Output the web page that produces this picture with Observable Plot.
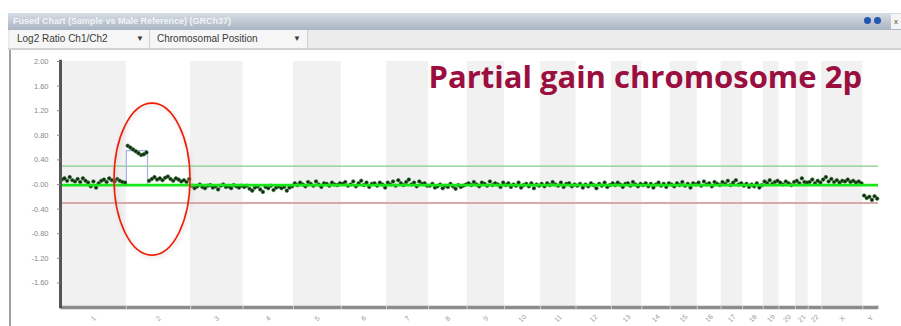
<!DOCTYPE html>
<html>
<head>
<meta charset="utf-8">
<script src="https://cdn.jsdelivr.net/npm/d3@7"></script>
<script src="https://cdn.jsdelivr.net/npm/@observablehq/plot@0.6"></script>
<style>
  html, body { margin: 0; padding: 0; background: #fff; }
  #page { position: relative; width: 901px; height: 326px; overflow: hidden; background: #fff; font-family: "Liberation Sans", Arial, sans-serif; }
  #titlebar { position: absolute; left: 8px; top: 13px; width: 893px; height: 17px; background: linear-gradient(#d6dde5, #a9b5c2); color: rgba(255,255,255,0.8); font-size: 9px; font-weight: bold; line-height: 17px; padding-left: 5px; box-sizing: border-box; }
  #toolbar { position: absolute; left: 8px; top: 30px; width: 893px; height: 18px; background: #ececec; border-bottom: 2px solid #d2d2d2; font-size: 10px; color: #3a3a3a; }
  .btn { position: absolute; top: 0; height: 18px; line-height: 18px; background: #f6f6f6; border-right: 1px solid #d0d0d0; box-sizing: border-box; padding-left: 7px; }
  .btn span { position: absolute; font-size: 8px; }
  #leftborder { position: absolute; left: 9px; top: 50px; width: 2px; height: 276px; background: #a0a0a0; }
  #chart { position: absolute; left: 0; top: 50px; }
  .bdot { position: absolute; top: 17px; width: 7px; height: 7px; border-radius: 50%; background: #2458b0; }
  #closebox { position: absolute; left: 891px; top: 14px; width: 10px; height: 15px; background: #f4f4f4; font-size: 8px; line-height: 15px; color: #444; text-align: center; }
</style>
</head>
<body>
<div id="page">
  <div id="titlebar">Fused Chart (Sample vs Male Reference) (GRCh37)</div>
  <div class="bdot" style="left:864px"></div>
  <div class="bdot" style="left:874px"></div>
  <div id="closebox">x</div>
  <div id="toolbar">
    <div class="btn" style="left:2px;width:140px">Log2 Ratio Ch1/Ch2<span style="left:126px">&#9660;</span></div>
    <div class="btn" style="left:142px;width:158px">Chromosomal Position<span style="left:143px">&#9660;</span></div>
  </div>
  <div id="leftborder"></div>
  <div id="chart"></div>
</div>
<script>
// Chromosome names and lengths (Mb, GRCh37)
const chromNames = ["1","2","3","4","5","6","7","8","9","10","11","12","13","14","15","16","17","18","19","20","21","22","X","Y"];
const chromLengths = [249.25,243.2,198.0,191.2,180.9,171.1,159.1,146.4,141.2,135.5,135.0,133.9,115.2,107.3,102.5,90.4,81.2,78.1,59.1,63.0,48.1,51.3,155.3,59.4];

// Log2 ratio values read along each chromosome
const chr1 = [0.08,0.1,0.06,0.12,0.07,0.05,0.09,0.04,0.1,0.06,0.03,-0.03,0.05,-0.05,0.02,0.06,0.08,0.04,0.1,0.07,0.05,0.09,0.06,0.04,0.03];
const chr2 = [0.63,0.6,0.57,0.54,0.51,0.48,0.49,0.52,0.06,0.09,0.12,0.08,0.1,0.07,0.11,0.13,0.09,0.06,0.1,0.08,0.05,0.07,0.04,0.09];
const chr3 = [-0.02,-0.06,-0.03,0.0,-0.04,-0.06,-0.02,-0.01,-0.05,-0.03,-0.08,-0.02,0.0,-0.04,-0.03,-0.06,-0.01,-0.03,-0.05,-0.02];
const chr4 = [-0.04,-0.02,-0.07,-0.1,-0.05,-0.03,-0.08,-0.12,-0.04,-0.06,-0.02,-0.09,-0.05,-0.03,-0.06,-0.04,-0.1,-0.05,-0.03];
const chr5 = [0.02,-0.01,0.03,0.0,-0.03,0.04,0.01,-0.02,0.05,0.0,-0.04,0.02,0.01,-0.02,0.03,0.0,-0.01,0.02];
const chr6 = [0.01,0.04,-0.02,0.0,0.05,-0.03,0.02,0.06,-0.01,0.03,-0.04,0.01,0.02,-0.02,0.03,0.0,-0.05];
const chr7 = [0.03,0.0,0.05,-0.02,0.07,0.02,-0.01,0.04,0.08,0.0,0.03,-0.03,0.05,0.01,0.02,-0.02];
const chr8 = [-0.02,0.01,-0.05,-0.03,0.0,-0.06,-0.02,-0.04,0.01,-0.03,-0.07,-0.01,-0.04,-0.02,0.0];
const chr9 = [0.02,-0.01,0.04,0.0,-0.03,0.03,0.01,-0.02,0.05,-0.01,0.02,0.0,-0.04,0.03];
const chr10 = [-0.01,0.02,-0.04,0.0,-0.02,0.03,-0.05,-0.01,0.01,-0.03,0.02,-0.06,0.0,-0.02];
const chr11 = [0.01,-0.03,0.02,-0.01,0.04,0.0,-0.02,0.03,-0.04,0.01,0.02,-0.03,0.0];
const chr12 = [-0.02,0.01,-0.05,0.0,-0.03,0.02,-0.01,-0.06,0.01,-0.02,0.03,-0.04,-0.01];
const chr13 = [0.02,-0.01,0.03,0.0,-0.04,0.01,0.02,-0.02,0.04,0.0,-0.03,0.01];
const chr14 = [-0.01,0.02,-0.03,0.01,-0.05,0.0,0.03,-0.02,0.01,-0.04,0.02];
const chr15 = [0.0,-0.03,0.02,-0.01,0.04,-0.02,0.01,-0.05,0.02,0.0];
const chr16 = [0.03,-0.02,0.05,0.0,0.02,-0.03,0.04,0.01,-0.01];
const chr17 = [0.04,0.01,0.06,-0.01,0.03,0.07,0.0,0.02];
const chr18 = [-0.02,0.01,-0.04,0.0,-0.03,0.02,-0.05,-0.01];
const chr19 = [0.05,0.02,0.07,0.01,0.04,0.06];
const chr20 = [0.03,0.0,0.05,0.02,-0.01,0.04];
const chr21 = [0.06,0.02,0.1,0.04,0.03];
const chr22 = [0.04,0.08,0.02,0.06,0.03];
const chrX = [0.08,0.12,0.05,0.09,0.04,0.07,0.03,0.06,0.05,0.08,0.04,0.06,0.03,0.05,0.02];
const chrY = [-0.18,-0.22,-0.2,-0.25,-0.19,-0.23];

// Y axis ticks
const yTicks = [2.0,1.6,1.2,0.8,0.4,0,-0.4,-0.8,-1.2,-1.6];
// Thresholds and segments
const upperThreshold = 0.3;
const lowerThreshold = -0.3;
const baselineLevel = -0.01;
const gainChrom = "2";
const gainStartMb = 0;
const gainEndMb = 80;
const gainLevel = 0.55;
const annotation = "Partial gain chromosome 2p";
const circleCenterChrom = "2";
const circleCenterMb = 99;
const circleCenterValue = 0.08;

// ---- build tables ----
const chromValues = [chr1,chr2,chr3,chr4,chr5,chr6,chr7,chr8,chr9,chr10,chr11,chr12,chr13,chr14,chr15,chr16,chr17,chr18,chr19,chr20,chr21,chr22,chrX,chrY];
const chroms = [];
let acc = 0;
chromNames.forEach((name, i) => {
  chroms.push({name, index: i, start: acc, end: acc + chromLengths[i], mid: acc + chromLengths[i] / 2});
  acc += chromLengths[i];
});
const genomeLength = acc;
const startOf = name => chroms.find(c => c.name === name).start;

const points = [];
chroms.forEach((c, i) => {
  const vals = chromValues[i];
  const n = vals.length;
  vals.forEach((v, j) => points.push({pos: c.start + (j + 0.5) * chromLengths[i] / n, value: v}));
});

const g0 = startOf(gainChrom) + gainStartMb;
const g1 = startOf(gainChrom) + gainEndMb;
const gainPath = [
  {pos: g0, value: 0}, {pos: g0, value: gainLevel}, {pos: g1, value: gainLevel}, {pos: g1, value: 0}
];
const boundaries = chroms.map(c => c.start).concat([genomeLength]);

const plot = Plot.plot({
  width: 901,
  height: 276,
  marginLeft: 60,
  marginRight: 23,
  marginTop: 11,
  marginBottom: 19,
  style: {color: "#8a8a8a", background: "transparent", fontFamily: "'Liberation Sans', Arial, sans-serif", overflow: "visible"},
  x: {domain: [0, genomeLength], axis: null},
  y: {domain: [-2, 2], axis: null},
  marks: [
    Plot.rect(chroms.filter(c => c.index % 2 === 0), {x1: "start", x2: "end", y1: -2, y2: 2, fill: "#f1f1f1"}),
    Plot.ruleY([upperThreshold], {stroke: "#86cc86", strokeWidth: 1.2}),
    Plot.ruleY([lowerThreshold], {stroke: "#d8a9ab", strokeWidth: 2}),
    Plot.line(gainPath, {x: "pos", y: "value", stroke: "#a9b0ee", strokeWidth: 1.2}),
    Plot.dot(points, {x: "pos", y: "value", r: 1.8, fill: "#0e2a10", stroke: "#2f6f2f", strokeWidth: 0.6}),
    Plot.ruleY([baselineLevel], {stroke: "#19e619", strokeWidth: 2.6}),
    Plot.ruleY([-2], {stroke: "#8c8c8c", strokeWidth: 3.5}),
    Plot.ruleX(boundaries, {y1: -2.03, y2: -1.97, stroke: "#d4d4d4", strokeWidth: 1}),
    Plot.ruleX([0], {y1: -2.02, y2: 2.02, stroke: "#555", strokeWidth: 3}),
    Plot.axisY(yTicks, {tickSize: 3, tickPadding: 9, fontSize: 7.5, fill: "#8a8a8a", stroke: "#8a8a8a", tickFormat: d => d === 0 ? "-0.00" : d.toFixed(2), label: null}),
    Plot.text(chroms, {x: "mid", y: -2, text: "name", dy: 11, rotate: -45, fontSize: 7, fill: "#9a9a9a"}),
    Plot.text([annotation], {frameAnchor: "top-left", dx: 368, dy: 4, text: d => d, textAnchor: "start", lineAnchor: "top", fontSize: 31, fontWeight: "bold", fontFamily: "'Open Sans', Lato, sans-serif", fill: "#9a0f40"})
  ]
});

document.getElementById("chart").appendChild(plot);

// Red ellipse highlighting the gained region
const xs = plot.scale("x"), ys = plot.scale("y");
const cx = xs.apply(startOf(circleCenterChrom) + circleCenterMb);
const cy = ys.apply(circleCenterValue);
const svg = d3.select(plot);
const defs = svg.append("defs");
const f = defs.append("filter").attr("id", "soft").attr("x", "-20%").attr("y", "-20%").attr("width", "140%").attr("height", "140%");
f.append("feGaussianBlur").attr("stdDeviation", 2);
svg.append("ellipse").attr("cx", cx + 1).attr("cy", cy + 2).attr("rx", 38).attr("ry", 76)
  .attr("fill", "none").attr("stroke", "#bbb").attr("stroke-opacity", 0.5).attr("stroke-width", 2).attr("filter", "url(#soft)");
svg.append("ellipse").attr("cx", cx).attr("cy", cy).attr("rx", 38).attr("ry", 76)
  .attr("fill", "none").attr("stroke", "#f21d05").attr("stroke-width", 1.6);
</script>
</body>
</html>
